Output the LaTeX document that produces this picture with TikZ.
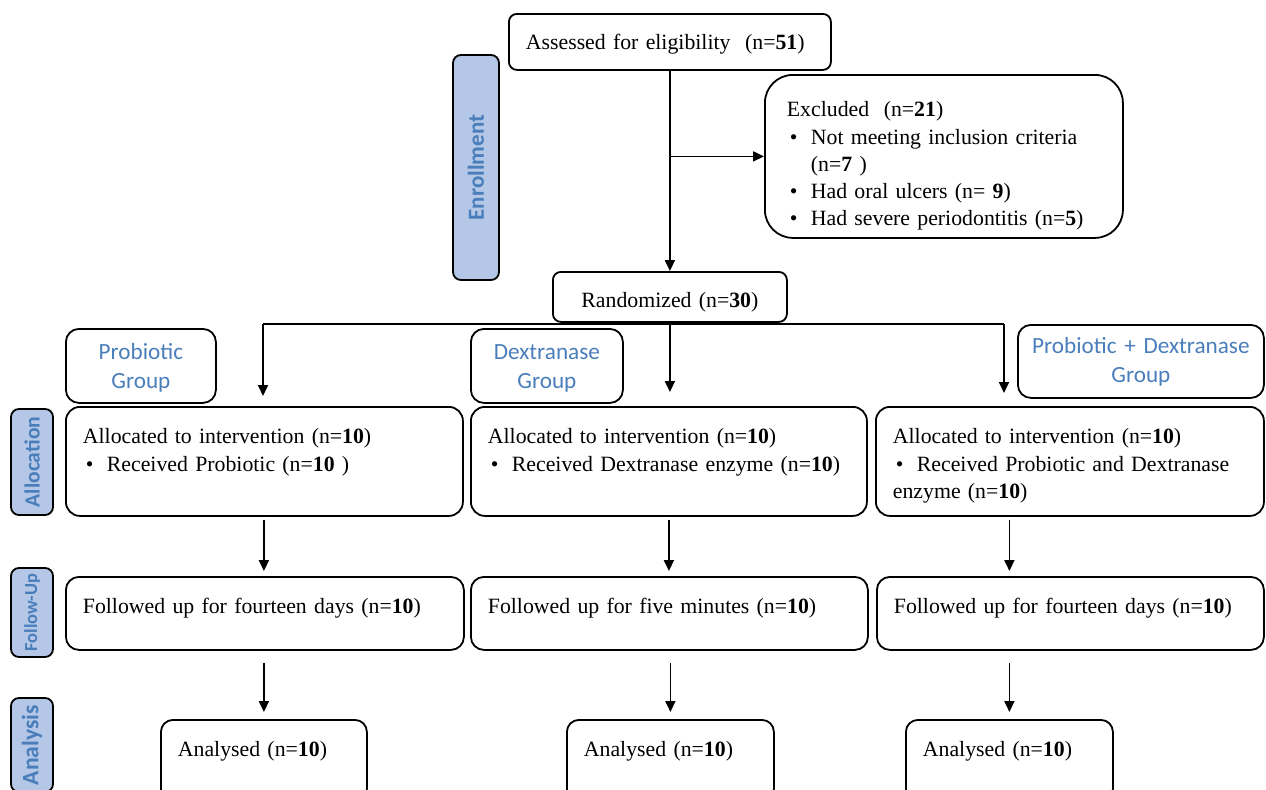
\documentclass[tikz,border=0pt]{standalone}
\usepackage{fontspec}
\setmainfont{Liberation Serif}
\newfontfamily\calibri{Carlito}
\usepackage{xcolor}
\usetikzlibrary{arrows.meta, positioning}

\definecolor{phasefill}{HTML}{B4C7E7}
\definecolor{groupblue}{HTML}{4A7EBB}
\setlength{\parindent}{0pt}

% bullet line with hanging indent
\newcommand{\bul}[1]{\par\noindent\hangindent=12pt\hangafter=1\hspace*{1.5pt}\makebox[10.5pt][l]{\textbullet}#1}

\begin{document}
\begin{tikzpicture}[x=0.5pt, y=-0.5pt, >={Triangle[length=5.5pt, width=5pt]},
    box/.style={draw, line width=0.9pt, rounded corners=7pt, anchor=north west, align=left,
        inner xsep=8.5pt, inner ysep=0pt, font=\fontsize{10.9}{13.6}\selectfont},
    group/.style={draw, line width=0.9pt, rounded corners=6.5pt, anchor=north west, align=center,
        inner xsep=0pt, inner ysep=0pt, text=groupblue, font=\calibri\fontsize{11.6}{14.5}\selectfont},
    phase/.style={draw, line width=0.9pt, fill=phasefill, rounded corners=4pt, rotate=90, inner sep=0pt,
        text=groupblue, font=\calibri\bfseries\fontsize{#1}{12}\selectfont},
    flow/.style={->, line width=0.9pt}]
    \useasboundingbox (0,0) rectangle (1266,789);
    \clip (0,0) rectangle (1266,789);

    % phase bars
    \node (enroll) [phase=11.5, minimum width=112.5pt, minimum height=23pt] at (476,167.5) {Enrollment};
    \node (alloc) [phase=10.8, minimum width=53pt, minimum height=21pt] at (32,462) {Allocation};
    \node (follow) [phase=9.2, minimum width=44.5pt, minimum height=21pt] at (32,612.5) {Follow-Up};
    \node (analysis) [phase=11.8, minimum width=47pt, minimum height=21pt] at (32,745) {Analysis};

    % enrollment
    \node (assess) [box, rounded corners=4pt, text width=144pt, text height=18pt, text depth=10pt] at (508,13)
        {Assessed for eligibility\ \ (n=\textbf{51})};
    \node (excl) [box, rounded corners=14pt, inner xsep=11pt, text width=157pt, text height=21pt, text depth=60.5pt] at (764,74)
        {Excluded\ \ (n=\textbf{21})\bul{Not meeting inclusion criteria\newline(n=\textbf{7} )}\bul{Had oral ulcers (n= \textbf{9})}\bul{Had severe periodontitis (n=\textbf{5})}};
    \node (rand) [box, rounded corners=4pt, align=center, text width=100pt, text height=18pt, text depth=7pt] at (552,271)
        {Randomized (n=\textbf{30})};

    % groups
    \node (gp1) [group, text width=75pt, text height=15.5pt, text depth=21.5pt] at (65,328) {Probiotic\\Group};
    \node (gp2) [group, text width=76pt, text height=15.5pt, text depth=21.5pt] at (470,328) {Dextranase\\Group};
    \node (gp3) [group, text width=123pt, text height=14.5pt, text depth=22pt] at (1017,324) {Probiotic + Dextranase\\Group};

    % allocation
    \node (al1) [box, text width=181.5pt, text height=18.5pt, text depth=36pt] at (65,406)
        {Allocated to intervention (n=\textbf{10})\bul{Received Probiotic (n=\textbf{10} )}};
    \node (al2) [box, text width=181pt, text height=18.5pt, text depth=36pt] at (470,406)
        {Allocated to intervention (n=\textbf{10})\bul{Received Dextranase enzyme (n=\textbf{10})}};
    \node (al3) [box, text width=177pt, text height=18.5pt, text depth=36pt] at (875,406)
        {Allocated to intervention (n=\textbf{10})\bul{Received Probiotic and Dextranase}\par enzyme (n=\textbf{10})};

    % follow-up
    \node (fu1) [box, rounded corners=6.5pt, text width=182pt, text height=18.5pt, text depth=18pt] at (65,576)
        {Followed up for fourteen days (n=\textbf{10})};
    \node (fu2) [box, rounded corners=6.5pt, text width=181.5pt, text height=18.5pt, text depth=18pt] at (470,576)
        {Followed up for five minutes (n=\textbf{10})};
    \node (fu3) [box, rounded corners=6.5pt, text width=176.5pt, text height=18.5pt, text depth=18pt] at (876,576)
        {Followed up for fourteen days (n=\textbf{10})};

    % analysis
    \node (an1) [box, rounded corners=6pt, text width=86pt, text height=18.5pt, text depth=22pt] at (160,719) {Analysed (n=\textbf{10})};
    \node (an2) [box, rounded corners=6pt, text width=86.5pt, text height=18.5pt, text depth=22pt] at (566,719) {Analysed (n=\textbf{10})};
    \node (an3) [box, rounded corners=6pt, text width=86.5pt, text height=18.5pt, text depth=22pt] at (905,719) {Analysed (n=\textbf{10})};

    % connectors
    \draw[flow] (assess.south) -- (rand.north);
    \draw[flow] (assess.south |- excl.west) -- (excl.west);

    \coordinate (bl) at (263,324);
    \coordinate (br) at (1004,324);
    \draw[line width=0.9pt] (bl) -- (br);
    \draw[flow, shorten >=5pt] (bl) -- (bl |- al1.north);
    \draw[flow, shorten >=7pt] (rand.south) -- (rand.south |- al2.north);
    \draw[flow, shorten >=6.5pt] (br) -- (br |- al3.north);

    \draw[flow, shorten <=1.5pt, shorten >=2.5pt] (an1.north |- al1.south) -- (an1.north |- fu1.north);
    \draw[flow, shorten <=1.5pt, shorten >=2.5pt] (al2.south) -- (al2.south |- fu2.north);
    \draw[flow, shorten <=1.5pt, shorten >=2.5pt] (an3.north |- al3.south) -- (an3.north |- fu3.north);

    \draw[flow, shorten <=6pt, shorten >=3.5pt] (an1.north |- fu1.south) -- (an1.north);
    \draw[flow, shorten <=6pt, shorten >=3.5pt] (an2.north |- fu2.south) -- (an2.north);
    \draw[flow, shorten <=6pt, shorten >=3.5pt] (an3.north |- fu3.south) -- (an3.north);
\end{tikzpicture}
\end{document}
